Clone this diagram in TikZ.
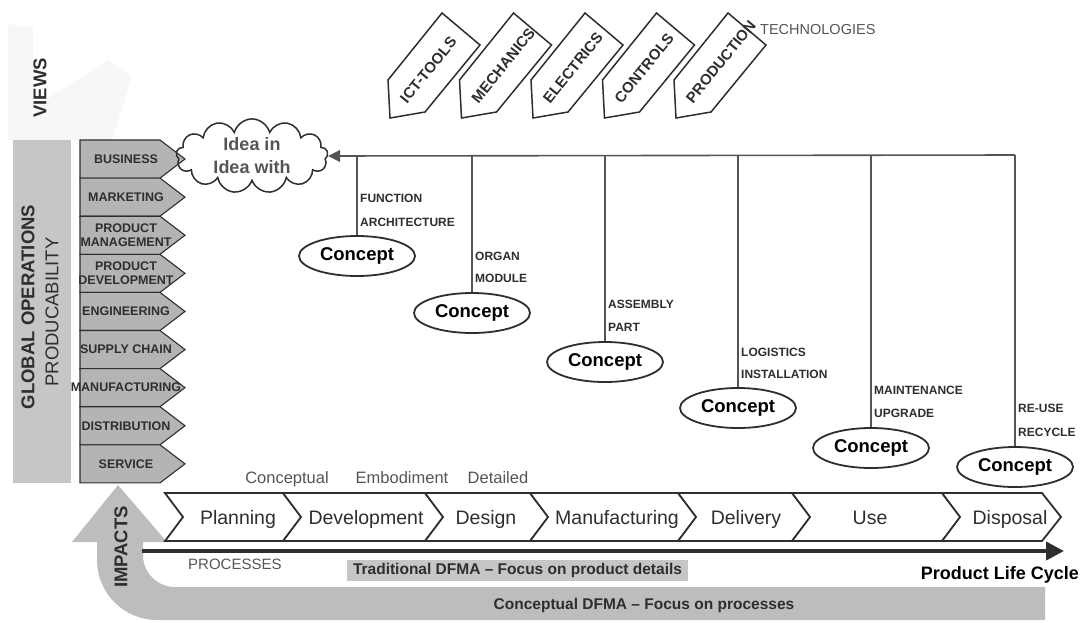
\documentclass[tikz,border=0pt]{standalone}
\usepackage{fontspec}
\setmainfont{Liberation Sans}
\usetikzlibrary{shapes.geometric,shapes.symbols,arrows.meta}

\definecolor{ink}{HTML}{2E2E2E}
\definecolor{dept}{HTML}{B4B4B4}
\definecolor{band}{HTML}{C6C6C6}
\definecolor{dfma}{HTML}{BDBDBD}
\definecolor{soft}{HTML}{555555}
\definecolor{faint}{HTML}{F7F7F7}

\begin{document}
\begin{tikzpicture}[x=1pt,y=-1pt,
  deptbox/.style={fill=dept, draw=ink, line width=1.1pt, line join=miter},
  deptlbl/.style={font=\fontsize{12.5}{14}\selectfont\bfseries, text=ink, align=center, inner sep=0},
  concept/.style={ellipse, draw=ink, line width=1.8pt, fill=white, minimum width=116pt, minimum height=40pt, inner sep=0, font=\fontsize{18.5}{20}\selectfont\bfseries, text=black},
  lvl/.style={anchor=west, font=\fontsize{12}{14}\selectfont\bfseries, inner sep=0, text=ink},
  stage/.style={font=\fontsize{19.5}{22}\selectfont, text=ink, inner sep=0, anchor=base},
  stagebox/.style={draw=ink, line width=1.8pt, fill=white, line join=miter},
  phase/.style={font=\fontsize{16.5}{18}\selectfont, text=soft, inner sep=0, anchor=base},
  techbox/.style={draw=ink, line width=1.5pt, fill=white, line join=miter},
  techlbl/.style={font=\fontsize{15}{17}\selectfont\bfseries, rotate=51, anchor=west, inner sep=0, text=ink},
  vline/.style={draw=soft, line width=1.6pt},
  axislbl/.style={font=\fontsize{18.5}{20}\selectfont\bfseries, text=ink, inner sep=0, rotate=90}
]
\useasboundingbox (0,0) rectangle (1092,622);

% faint watermark behind the VIEWS label
\fill[faint] (8,24) -- (33,28) -- (33,108) -- (108,60) -- (132,76) -- (112,140) -- (8,140) -- cycle;

% side band for global operations
\fill[band] (13,140) rectangle (71,483);
\node[axislbl] (glob) at (28,307) {GLOBAL OPERATIONS};
\node[axislbl, font=\fontsize{18.5}{20}\selectfont] (prod) at (52,312) {PRODUCABILITY};
\node[axislbl] (views) at (40,88) {VIEWS};

% large U-shaped impact arrow (conceptual DFMA)
\fill[dfma] (118,485) -- (167,542) -- (143,542) -- (143,555)
  .. controls (143,572.7) and (157.3,587) .. (175,587)
  -- (1045,587) -- (1045,620) -- (157,620)
  .. controls (123.9,620) and (97,593.1) .. (97,560)
  -- (97,542) -- (72,542) -- cycle;
\node[axislbl] (impacts) at (121,547) {IMPACTS};
\node[font=\fontsize{15.5}{17}\selectfont\bfseries, text=ink, inner sep=0] (cdfma) at (644,605) {Conceptual DFMA -- Focus on processes};

% organisational functions
\foreach \t [count=\i] in {BUSINESS, MARKETING, {PRODUCT\\MANAGEMENT}, {PRODUCT\\DEVELOPMENT}, ENGINEERING, SUPPLY CHAIN, MANUFACTURING, DISTRIBUTION, SERVICE} {
  \pgfmathsetmacro\ya{140+38.1*(\i-1)}
  \pgfmathsetmacro\yb{\ya+38.1}
  \pgfmathsetmacro\ym{\ya+19.05}
  \draw[deptbox] (80,\ya) -- (160,\ya) -- (185,\ym) -- (160,\yb) -- (80,\yb) -- cycle;
  \node[deptlbl] (d\i) at (126,\ym) {\t};
}

% technology views
\foreach \t [count=\i] in {ICT-TOOLS, MECHANICS, ELECTRICS, CONTROLS, PRODUCTION} {
  \pgfmathsetmacro\dx{71.5*(\i-1)}
  \draw[techbox, shift={(\dx,0)}] (442,13) -- (480,45) -- (425,112) -- (390,118) -- (388,80) -- cycle;
}
\foreach \t [count=\i] in {ICT-TOOLS, MECHANICS, ELECTRICS, CONTROLS, PRODUCTION} {
  \pgfmathsetmacro\dx{403+71.5*(\i-1)}
  \node[techlbl] (t\i) at (\dx,101) {\t};
}
\node[anchor=west, font=\fontsize{14.5}{16}\selectfont, text=soft, inner sep=0] (tech) at (760,30) {TECHNOLOGIES};

% idea cloud
\node[cloud, draw=ink, line width=1.5pt, cloud puffs=13, aspect=2.6,
      minimum width=152pt, minimum height=56pt, inner sep=0,
      font=\fontsize{18}{23}\selectfont\bfseries, text=soft, align=center] (idea) at (252,156) {Idea in\\Idea with};

% concept levels
\node[concept] (c1) at (357,256) {Concept};
\node[concept] (c2) at (472,313) {Concept};
\node[concept] (c3) at (605,362) {Concept};
\node[concept] (c4) at (738,408) {Concept};
\node[concept] (c5) at (871,448) {Concept};
\node[concept] (c6) at (1015,467) {Concept};

\coordinate (bus) at (1015,155);
\draw[vline, -{Triangle[length=12pt,width=12pt]}] (bus) -- (idea.east);
\foreach \c in {c1,c2,c3,c4,c5,c6} {
  \draw[vline] (\c.north) -- (\c.north |- bus);
}

\node[lvl] (l1a) at (360,198) {FUNCTION};
\node[lvl] (l1b) at (360,222) {ARCHITECTURE};
\node[lvl] (l2a) at (475,256) {ORGAN};
\node[lvl] (l2b) at (475,278) {MODULE};
\node[lvl] (l3a) at (608,304) {ASSEMBLY};
\node[lvl] (l3b) at (608,327) {PART};
\node[lvl] (l4a) at (741,352) {LOGISTICS};
\node[lvl] (l4b) at (741,374) {INSTALLATION};
\node[lvl] (l5a) at (874,390) {MAINTENANCE};
\node[lvl] (l5b) at (874,413) {UPGRADE};
\node[lvl] (l6a) at (1018,408) {RE-USE};
\node[lvl] (l6b) at (1018,432) {RECYCLE};

% design phases
\node[phase] (ph1) at (287,483) {Conceptual};
\node[phase] (ph2) at (402,483) {Embodiment};
\node[phase] (ph3) at (498,483) {Detailed};

% life-cycle stages
\foreach \a/\b/\t/\cx [count=\i] in {165/283/Planning/238, 283/425/Development/366, 425/530/Design/486, 530/678/Manufacturing/617, 678/792/Delivery/746, 792/942/Use/870, 942/1042/Disposal/1010} {
  \draw[stagebox] (\a,493) -- (\b,493) -- (\b+19,517) -- (\b,541) -- (\a,541) -- (\a+18,517) -- cycle;
  \node[stage] (s\i) at (\cx,524) {\t};
}

% product life cycle axis
\coordinate (plcS) at (142,551);
\coordinate (plcE) at (1064,551);
\draw[draw=ink, line width=4pt, -{Triangle[length=18pt,width=18pt]}] (plcS) -- (plcE);
\node[anchor=west, font=\fontsize{15}{17}\selectfont, text=soft, inner sep=0] (proc) at (188,564) {PROCESSES};
\node[fill=band, minimum width=341pt, minimum height=21pt, inner sep=0,
      font=\fontsize{15.5}{17}\selectfont\bfseries, text=ink] (trad) at (517.5,570.5) {Traditional DFMA -- Focus on product details};
\node[anchor=east, font=\fontsize{18}{20}\selectfont\bfseries, text=black, inner sep=0] (plc) at (1079,575) {Product Life Cycle};

\end{tikzpicture}
\end{document}
